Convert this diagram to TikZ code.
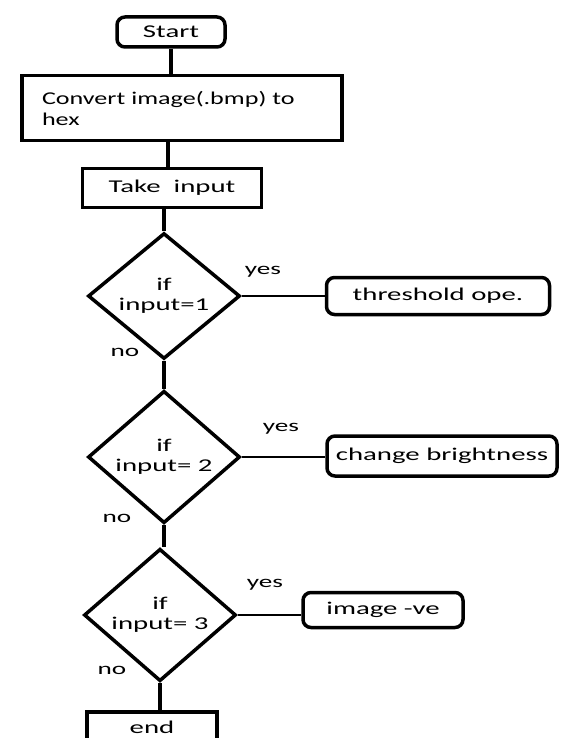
\documentclass[tikz,border=0pt]{standalone}
\usepackage{fontspec}
\setmainfont{Carlito}[FakeStretch=1.6]
\newfontfamily\convfont{Carlito}[FakeStretch=1.45]
\usepackage{tikz}
\usetikzlibrary{shapes.geometric}

\begin{document}
\begin{tikzpicture}[x=1pt,y=-1pt,
            proc/.style={draw, line width=3.5pt, inner sep=0pt, font=\fontsize{18}{22}\selectfont},
            term/.style={proc, rounded corners=8pt},
            dec/.style={diamond, draw, line width=3.5pt, inner sep=0pt, align=center,
                        minimum width=152pt, minimum height=106pt, font=\fontsize{18}{20}\selectfont},
            lbl/.style={font=\fontsize{17}{20}\selectfont},
            flow/.style={line width=4pt},
            yesline/.style={line width=2pt}]
        \clip (0,0) rectangle (564,738);
        \node[term, minimum width=108pt, minimum height=30pt] (start) at (171,32) {Start};
        \node[proc, minimum width=320pt, minimum height=65pt, text width=280pt, align=left,
              font=\convfont\fontsize{18}{21}\selectfont] (conv) at (182,108)
              {Convert image(.bmp) to\\hex};
        \node[proc, minimum width=179pt, minimum height=39pt] (take) at (172,188) {Take~~input};
        \node[dec] (if1) at (164,296) {if\\input=1};
        \node[dec] (if2) at (164,457) {if\\input= 2};
        \node[dec] (if3) at (160,615) {if\\input= 3};
        \node[term, minimum width=223pt, minimum height=37pt] (thr) at (438,296) {threshold ope.};
        \node[term, minimum width=230pt, minimum height=40pt] (bri) at (442,456) {change brightness};
        \node[term, minimum width=160pt, minimum height=35pt] (neg) at (383,610) {image -ve};
        \node[proc, minimum width=130pt, minimum height=30pt] (stop) at (152,727) {end};
        % labels
        \node[lbl] (yes1) at (263,272) {yes};
        \node[lbl] (yes2) at (281,429) {yes};
        \node[lbl] (yes3) at (265,585) {yes};
        \node[lbl] (no1) at (125,352) {no};
        \node[lbl] (no2) at (117,518) {no};
        \node[lbl] (no3) at (112,670) {no};
        % connectors
        \draw[flow] (start.south) -- (start.south |- conv.north);
        \draw[flow] (take.north -| 168,0) -- (conv.south -| 168,0);
        \draw[flow] (if1.north) -- (if1.north |- take.south);
        \draw[flow] (if1.south) -- (if2.north);
        \draw[flow] (if2.south) -- (if2.south |- if3.north);
        \draw[flow] (if3.south) -- (if3.south |- stop.north);
        \draw[yesline] (if1.east) -- (thr.west);
        \draw[yesline] (if2.east) -- (if2.east -| bri.west);
        \draw[yesline] (if3.east) -- (if3.east -| neg.west);
\end{tikzpicture}
\end{document}
